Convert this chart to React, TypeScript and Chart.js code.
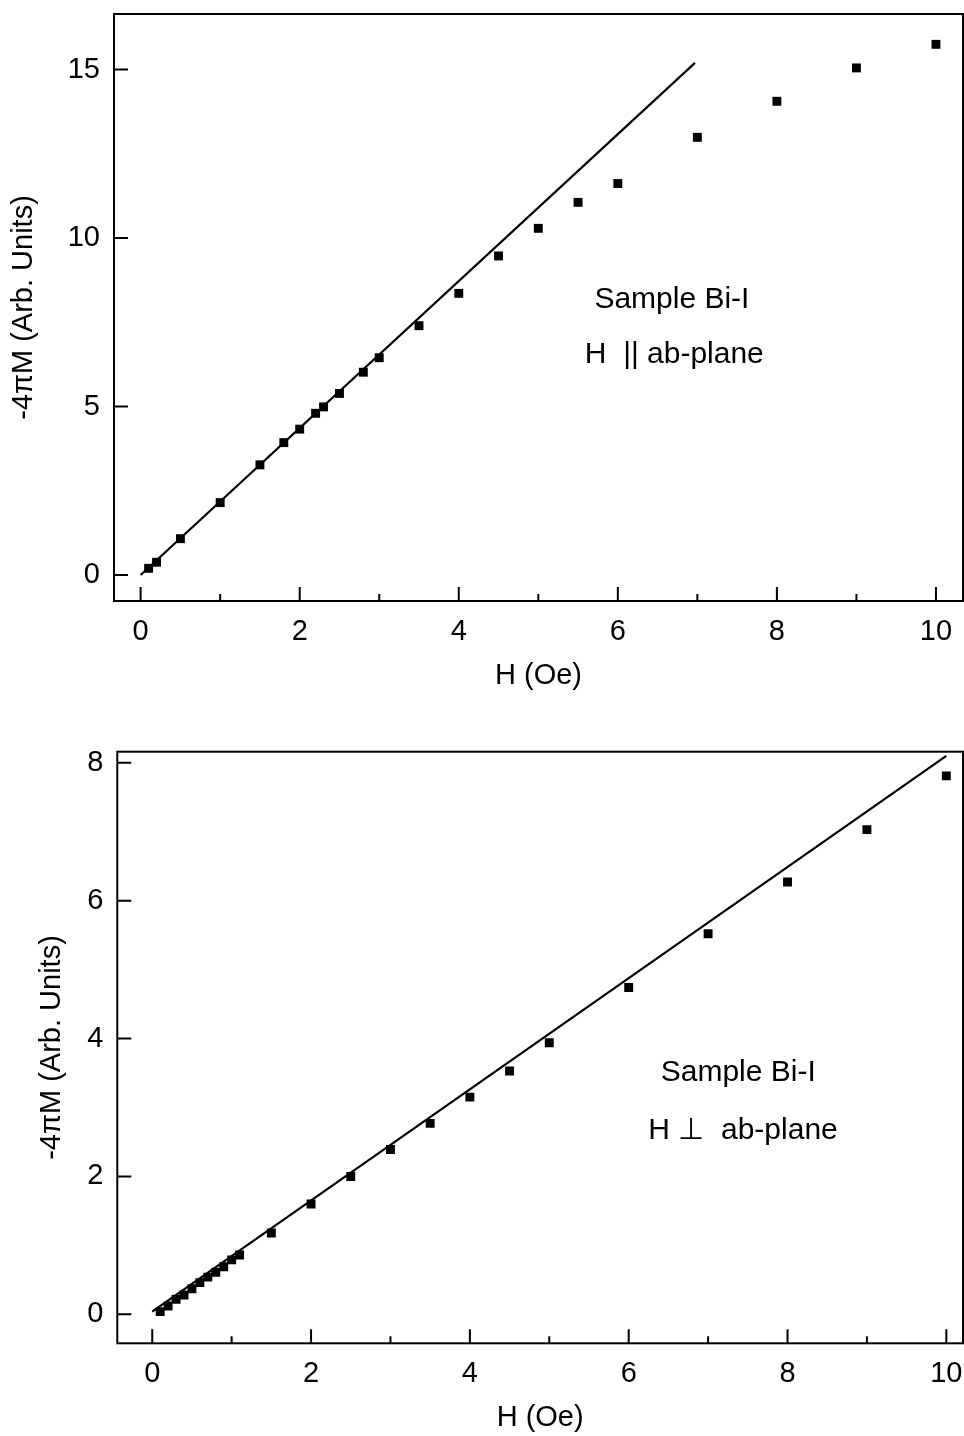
import React, { useEffect, useRef } from "react";
import { Chart, registerables } from "chart.js";

Chart.register(...registerables);

const FONT = "'Liberation Sans', Arial, Helvetica, sans-serif";

// ---- Data: top panel (H || ab-plane) ----
const topH = [0.1, 0.2, 0.5, 1.0, 1.5, 1.8, 2.0, 2.2, 2.3, 2.5, 2.8, 3.0, 3.5, 4.0, 4.5, 5.0, 5.5, 6.0, 7.0, 8.0, 9.0, 10.0];
const topM = [0.2, 0.38, 1.08, 2.15, 3.27, 3.93, 4.33, 4.8, 4.99, 5.39, 6.02, 6.45, 7.4, 8.36, 9.47, 10.29, 11.06, 11.62, 12.99, 14.06, 15.05, 15.75];
const topFitH = [0, 6.97];
const topFitM = [0, 15.2];
const topYTicks = [0, 5, 10, 15];

// ---- Data: bottom panel (H ⊥ ab-plane) ----
const bottomH = [0.1, 0.2, 0.3, 0.4, 0.5, 0.6, 0.7, 0.8, 0.9, 1.0, 1.1, 1.5, 2.0, 2.5, 3.0, 3.5, 4.0, 4.5, 5.0, 6.0, 7.0, 8.0, 9.0, 10.0];
const bottomM = [0.04, 0.12, 0.22, 0.28, 0.37, 0.46, 0.54, 0.61, 0.69, 0.79, 0.86, 1.18, 1.6, 2.0, 2.39, 2.77, 3.15, 3.53, 3.94, 4.74, 5.52, 6.27, 7.03, 7.81];
const bottomFitH = [0, 10];
const bottomFitM = [0.04, 8.1];
const bottomYTicks = [0, 2, 4, 6, 8];

// ---- Shared axis ticks / labels ----
const xTicks = [0, 1, 2, 3, 4, 5, 6, 7, 8, 9, 10];
const xTitle = "H (Oe)";
const yTitle = "-4πM (Arb. Units)";
const topNotes = ["Sample Bi-I", "H  || ab-plane"];
const bottomNotes = ["Sample Bi-I", "H ⊥  ab-plane"];

const framePlugin = {
  id: "frame",
  afterDatasetsDraw(chart: any, _args: any, opts: any) {
    const { ctx, chartArea: a, scales } = chart;
    ctx.save();
    ctx.strokeStyle = "#000";
    ctx.lineWidth = 2;
    ctx.strokeRect(a.left, a.top, a.right - a.left, a.bottom - a.top);
    ctx.beginPath();
    scales.x.ticks.forEach((t: any) => {
      const px = scales.x.getPixelForValue(t.value);
      const len = t.label ? 14 : 7;
      ctx.moveTo(px, a.bottom);
      ctx.lineTo(px, a.bottom - len);
    });
    scales.y.ticks.forEach((t: any) => {
      const py = scales.y.getPixelForValue(t.value);
      ctx.moveTo(a.left, py);
      ctx.lineTo(a.left + 14, py);
    });
    ctx.stroke();
    if (opts && opts.notes) {
      ctx.fillStyle = "#000";
      ctx.font = `30px ${FONT}`;
      ctx.textAlign = "center";
      ctx.textBaseline = "middle";
      opts.notes.forEach((n: any) => {
        ctx.fillText(n.text, scales.x.getPixelForValue(n.x), scales.y.getPixelForValue(n.y));
      });
    }
    ctx.restore();
  },
};

function zeroPad(s: any) {
  s.paddingTop = 0;
  s.paddingBottom = 0;
  s.paddingLeft = 0;
  s.paddingRight = 0;
}

function makeConfig(p: any) {
  return {
    type: "scatter",
    data: {
      datasets: [
        {
          data: p.fitH.map((h: number, i: number) => ({ x: h, y: p.fitM[i] })),
          showLine: true,
          borderColor: "#000",
          borderWidth: 2.2,
          pointRadius: 0,
          fill: false,
        },
        {
          data: p.h.map((h: number, i: number) => ({ x: h, y: p.m[i] })),
          showLine: false,
          pointStyle: "rect",
          pointRadius: 6.3,
          backgroundColor: "#000",
          borderColor: "#000",
          borderWidth: 0,
        },
      ],
    },
    options: {
      animation: false,
      responsive: false,
      maintainAspectRatio: false,
      layout: { autoPadding: false, padding: { top: p.padTop, right: 1, left: 0, bottom: 0 } },
      plugins: {
        legend: { display: false },
        tooltip: { enabled: false },
        frame: { notes: p.notes },
      },
      scales: {
        x: {
          type: "linear",
          min: p.xMin,
          max: p.xMax,
          grid: { display: false, drawTicks: false },
          border: { display: false },
          afterBuildTicks: (s: any) => {
            s.ticks = xTicks.map((v) => ({ value: v }));
          },
          afterFit: (s: any) => {
            s.height = p.xAxisH;
            zeroPad(s);
          },
          ticks: {
            autoSkip: false,
            maxRotation: 0,
            padding: p.xTickPad,
            color: "#000",
            font: { family: FONT, size: 29 },
            callback: (v: number) => (v % 2 === 0 ? String(v) : ""),
          },
          title: {
            display: true,
            text: xTitle,
            color: "#000",
            font: { family: FONT, size: 29 },
            padding: { top: 0, bottom: p.xTitlePad },
          },
        },
        y: {
          type: "linear",
          min: p.yMin,
          max: p.yMax,
          grid: { display: false, drawTicks: false },
          border: { display: false },
          afterBuildTicks: (s: any) => {
            s.ticks = p.yTicks.map((v: number) => ({ value: v }));
          },
          afterFit: (s: any) => {
            s.width = p.yAxisW;
            zeroPad(s);
          },
          ticks: {
            autoSkip: false,
            padding: 14,
            color: "#000",
            font: { family: FONT, size: 29 },
          },
          title: {
            display: true,
            text: yTitle,
            color: "#000",
            font: { family: FONT, size: 29 },
            padding: { top: p.yTitlePad, bottom: 0 },
          },
        },
      },
    },
    plugins: [framePlugin],
  };
}

const topPanel = {
  h: topH,
  m: topM,
  fitH: topFitH,
  fitM: topFitM,
  yTicks: topYTicks,
  xMin: -0.335,
  xMax: 10.34,
  yMin: -0.77,
  yMax: 16.65,
  padTop: 14,
  yAxisW: 114,
  xAxisH: 117,
  xTickPad: 14,
  xTitlePad: 24.6,
  yTitlePad: 6.6,
  notes: [
    { text: topNotes[0], x: 6.68, y: 8.16 },
    { text: topNotes[1], x: 6.71, y: 6.53 },
  ],
};

const bottomPanel = {
  h: bottomH,
  m: bottomM,
  fitH: bottomFitH,
  fitM: bottomFitM,
  yTicks: bottomYTicks,
  xMin: -0.44,
  xMax: 10.21,
  yMin: -0.42,
  yMax: 8.16,
  padTop: 33.7,
  yAxisW: 117.3,
  xAxisH: 92.7,
  xTickPad: 13,
  xTitlePad: 0.6,
  yTitlePad: 34.6,
  notes: [
    { text: bottomNotes[0], x: 7.38, y: 3.5 },
    { text: bottomNotes[1], x: 7.44, y: 2.67 },
  ],
};

function Panel({ panel }: { panel: any }) {
  const ref = useRef<HTMLCanvasElement | null>(null);
  useEffect(() => {
    if (!ref.current) return;
    const chart = new Chart(ref.current, makeConfig(panel) as any);
    return () => chart.destroy();
  }, [panel]);
  return <canvas ref={ref} width={964} height={718} style={{ display: "block", width: 964, height: 718 }} />;
}

export default function App() {
  return (
    <div style={{ position: "absolute", left: 0, top: 0, width: 964, height: 1436, background: "#fff" }}>
      <Panel panel={topPanel} />
      <Panel panel={bottomPanel} />
    </div>
  );
}
